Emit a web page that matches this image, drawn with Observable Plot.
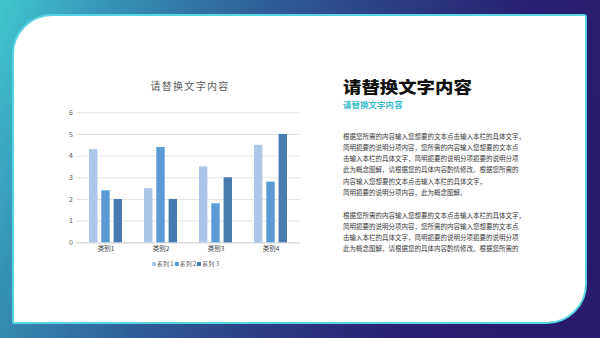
<!DOCTYPE html>
<html>
<head>
<meta charset="utf-8">
<script src="https://cdn.jsdelivr.net/npm/d3@7"></script>
<script src="https://cdn.jsdelivr.net/npm/@observablehq/plot@0.6"></script>
<style>
  html, body { margin: 0; padding: 0; }
  body {
    width: 600px; height: 338px; overflow: hidden; position: relative;
    font-family: "Noto Sans CJK SC", "Noto Sans", sans-serif;
    background: linear-gradient(112deg, #41c7cc 0%, #3590b6 16%, #2f5e99 36%, #2c3b84 55%, #291f72 72%, #28196b 100%);
  }
  #card {
    position: absolute; left: 12px; top: 14px; width: 571px; height: 306px;
    background: #fff; border: 2px solid #56d4e4;
    border-radius: 40px 3px 40px 2px;
  }
  .abs { position: absolute; white-space: nowrap; }
  #ctitle { left: 110px; width: 160px; top: 78px; text-align: center; font-size: 10px; letter-spacing: 1.3px; color: #595959; line-height: 16px; }
  #chart { left: 40px; top: 100px; }
  #legend { left: 136px; width: 100px; top: 259px; text-align: center; font-size: 6px; color: #595959; line-height: 9px; }
  #legend span.sw { display: inline-block; width: 4px; height: 4px; margin-right: 1px; vertical-align: 0px; }
  #legend span.it { margin-right: 1px; }
  #rtitle { left: 343px; top: 77.5px; font-size: 16px; font-weight: 900; color: #111; line-height: 16px; transform: scaleX(1.15); transform-origin: 0 50%; }
  #rsub { left: 343px; top: 100px; font-size: 8.4px; font-weight: 700; color: #37bccb; line-height: 8.4px; letter-spacing: 0.15px; }
  .para { left: 343px; font-size: 6.5px; line-height: 11.15px; color: #383838; }
</style>
</head>
<body>
<div id="card"></div>
<div id="ctitle" class="abs"></div>
<div id="chart" class="abs"></div>
<div id="legend" class="abs"></div>
<div id="rtitle" class="abs"></div>
<div id="rsub" class="abs"></div>
<div id="p1" class="abs para" style="top:131px"></div>
<div id="p2" class="abs para" style="top:210px"></div>
<script>
const chartTitle = "请替换文字内容";
const categories = ["类别1", "类别2", "类别3", "类别4"];
const seriesNames = ["系列 1", "系列 2", "系列 3"];
const series1 = [4.3, 2.5, 3.5, 4.5];
const series2 = [2.4, 4.4, 1.8, 2.8];
const series3 = [2.0, 2.0, 3.0, 5.0];
const seriesColors = ["#aac6e8", "#5b9bd5", "#4a7bb0"];
const yTicks = [0, 1, 2, 3, 4, 5, 6];
const headTitle = "请替换文字内容";
const headSub = "请替换文字内容";
const para1 = [
  "根据您所需的内容输入您想要的文本点击输入本栏的具体文字，",
  "简明扼要的说明分项内容，您所需的内容输入您想要的文本点",
  "击输入本栏的具体文字，简明扼要的说明分项扼要的说明分项",
  "此为概念图解，请根据您的具体内容酌情修改。根据您所需的",
  "内容输入您想要的文本点击输入本栏的具体文字，",
  "简明扼要的说明分项内容，此为概念图解。"
];
const para2 = [
  "根据您所需的内容输入您想要的文本点击输入本栏的具体文字，",
  "简明扼要的说明分项内容，您所需的内容输入您想要的文本点",
  "击输入本栏的具体文字，简明扼要的说明分项扼要的说明分项",
  "此为概念图解，请根据您的具体内容酌情修改。根据您所需的"
];

const allSeries = [series1, series2, series3];
const rows = allSeries.map((vals, s) => categories.map((c, i) => ({cat: c, series: seriesNames[s], value: vals[i]})));

// bar placement inside each category band (bandwidth ~33.9px)
const barW = 9.3, barStep = 12.3, bandW = 33.9;
const barMarks = rows.map((data, s) => Plot.barY(data, {
  x: "cat", y: "value", fill: seriesColors[s],
  insetLeft: s * barStep,
  insetRight: bandW - s * barStep - barW
}));

const chart = Plot.plot({
  width: 280, height: 160,
  marginLeft: 36.5, marginRight: 20, marginTop: 12.3, marginBottom: 17.7,
  style: { fontFamily: "'Noto Sans CJK SC', sans-serif", fontSize: "6.5px", color: "#595959", background: "transparent", overflow: "visible" },
  x: { domain: categories, paddingInner: 0.393, paddingOuter: 0.1965, label: null, tickSize: 0, tickPadding: 4 },
  y: { domain: [0, 6], ticks: yTicks, label: null, tickSize: 0, tickPadding: 4 },
  marks: [
    Plot.gridY(yTicks, { stroke: "#e3e3e3", strokeOpacity: 1 }),
    Plot.ruleY([0], { stroke: "#d4d4d4" }),
    ...barMarks,
    Plot.axisY(yTicks, { tickSize: 0, tickPadding: 4, fontSize: 7, fill: "#595959", label: null }),
    Plot.axisX({ tickSize: 0, tickPadding: 3.5, fontSize: 6.5, fill: "#404040", label: null })
  ]
});
document.getElementById("chart").appendChild(chart);

document.getElementById("ctitle").textContent = chartTitle;
const lg = document.getElementById("legend");
seriesNames.forEach((n, i) => {
  const sw = document.createElement("span"); sw.className = "sw"; sw.style.background = seriesColors[i];
  const t = document.createElement("span"); t.className = "it"; t.textContent = n;
  lg.appendChild(sw); lg.appendChild(t);
});
document.getElementById("rtitle").textContent = headTitle;
document.getElementById("rsub").textContent = headSub;
document.getElementById("p1").innerHTML = para1.map(s => `<div>${s}</div>`).join("");
document.getElementById("p2").innerHTML = para2.map(s => `<div>${s}</div>`).join("");
</script>
</body>
</html>
